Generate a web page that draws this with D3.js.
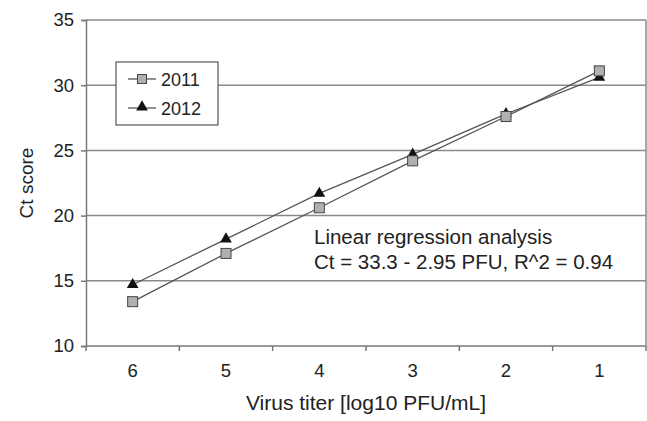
<!DOCTYPE html>
<html>
<head>
<meta charset="utf-8">
<script src="https://cdn.jsdelivr.net/npm/d3@7"></script>
<style>
  body { margin: 0; background: #fff; }
  text { font-family: "Liberation Sans", Arial, sans-serif; fill: #222; }
</style>
</head>
<body>
<div id="chart"></div>
<script>
const categories = ["6", "5", "4", "3", "2", "1"];
const values2011 = [13.4, 17.1, 20.6, 24.2, 27.6, 31.1];
const values2012 = [14.7, 18.2, 21.7, 24.7, 27.8, 30.6];
const yTicks = [10, 15, 20, 25, 30, 35];

const margin = { top: 20, right: 1, bottom: 75, left: 86 },
  width = 647 - margin.left - margin.right,
  height = 421 - margin.top - margin.bottom;

const svg = d3
  .select("#chart")
  .append("svg")
  .attr("width", 647)
  .attr("height", 421)
  .append("g")
  .attr("transform", "translate(" + margin.left + "," + margin.top + ")");

const x = d3.scaleBand().domain(categories).range([0, width]);
const y = d3.scaleLinear().domain([10, 35]).range([height, 0]);

// grid lines
svg
  .selectAll(".grid")
  .data(yTicks.slice(1))
  .enter()
  .append("line")
  .attr("x1", 0)
  .attr("x2", width)
  .attr("y1", (d) => y(d))
  .attr("y2", (d) => y(d))
  .attr("stroke", "#8a8a8a")
  .attr("stroke-width", 1.5);

// right border
svg.append("line")
  .attr("x1", width).attr("x2", width)
  .attr("y1", 0).attr("y2", height)
  .attr("stroke", "#8a8a8a").attr("stroke-width", 1.5);

// y axis
const yAxis = svg.append("g")
  .call(d3.axisLeft(y).tickValues(yTicks).tickSize(5).tickPadding(7));
yAxis.select(".domain").attr("stroke", "#777").attr("stroke-width", 1.5);
yAxis.selectAll(".tick line").attr("stroke", "#777").attr("stroke-width", 1.5);
yAxis.selectAll("text").style("font-size", "18.5px").attr("fill", "#222");

// x axis: ticks between categories
const xAxisG = svg.append("g").attr("transform", "translate(0," + height + ")");
xAxisG.append("line")
  .attr("x1", 0).attr("x2", width)
  .attr("stroke", "#777").attr("stroke-width", 1.5);
xAxisG.selectAll(".xt")
  .data(categories.concat(["end"]))
  .enter()
  .append("line")
  .attr("x1", (d, i) => i * x.step())
  .attr("x2", (d, i) => i * x.step())
  .attr("y1", 0).attr("y2", 5)
  .attr("stroke", "#777").attr("stroke-width", 1.5);
xAxisG.selectAll(".xl")
  .data(categories)
  .enter()
  .append("text")
  .attr("x", (d) => x(d) + x.bandwidth() / 2)
  .attr("y", 31)
  .attr("text-anchor", "middle")
  .style("font-size", "18.5px")
  .text((d) => d);

// axis titles
svg.append("text")
  .attr("x", width / 2)
  .attr("y", height + 64)
  .attr("text-anchor", "middle")
  .style("font-size", "21px")
  .text("Virus titer [log10 PFU/mL]");

svg.append("text")
  .attr("transform", "rotate(-90)")
  .attr("x", -height / 2)
  .attr("y", -53)
  .attr("text-anchor", "middle")
  .style("font-size", "19px")
  .text("Ct score");

// series
const line = d3.line()
  .x((d, i) => x(categories[i]) + x.bandwidth() / 2)
  .y((d) => y(d));

[values2012, values2011].forEach((vals) => {
  svg.append("path")
    .datum(vals)
    .attr("d", line)
    .attr("fill", "none")
    .attr("stroke", "#555")
    .attr("stroke-width", 1.3);
});

const tri = d3.symbol().type(d3.symbolTriangle).size(60);

svg.selectAll(".tri")
  .data(values2012)
  .enter()
  .append("path")
  .attr("d", tri)
  .attr("transform", (d, i) => "translate(" + (x(categories[i]) + x.bandwidth() / 2) + "," + y(d) + ")")
  .attr("fill", "#111");

svg.selectAll(".sq")
  .data(values2011)
  .enter()
  .append("rect")
  .attr("x", (d, i) => x(categories[i]) + x.bandwidth() / 2 - 5)
  .attr("y", (d) => y(d) - 5)
  .attr("width", 10)
  .attr("height", 10)
  .attr("fill", "#b0b0b0")
  .attr("stroke", "#444")
  .attr("stroke-width", 1);

// legend
const legend = svg.append("g").attr("transform", "translate(30,42)");
legend.append("rect")
  .attr("width", 102).attr("height", 63)
  .attr("fill", "#fff").attr("stroke", "#555").attr("stroke-width", 1.2);
legend.append("line").attr("x1", 12).attr("x2", 40).attr("y1", 17).attr("y2", 17)
  .attr("stroke", "#555").attr("stroke-width", 1.3);
legend.append("rect").attr("x", 21.5).attr("y", 12.5).attr("width", 9).attr("height", 9)
  .attr("fill", "#b0b0b0").attr("stroke", "#444");
legend.append("text").attr("x", 45).attr("y", 24).style("font-size", "18px").text("2011");
legend.append("line").attr("x1", 12).attr("x2", 40).attr("y1", 46).attr("y2", 46)
  .attr("stroke", "#555").attr("stroke-width", 1.3);
legend.append("path").attr("d", tri).attr("transform", "translate(26,45)").attr("fill", "#111");
legend.append("text").attr("x", 45).attr("y", 53).style("font-size", "18px").text("2012");

// annotation
svg.append("text")
  .attr("x", 228).attr("y", 224)
  .style("font-size", "20.5px")
  .text("Linear regression analysis");
svg.append("text")
  .attr("x", 228).attr("y", 249)
  .style("font-size", "20.5px")
  .text("Ct = 33.3 - 2.95 PFU, R^2 = 0.94");
</script>
</body>
</html>
